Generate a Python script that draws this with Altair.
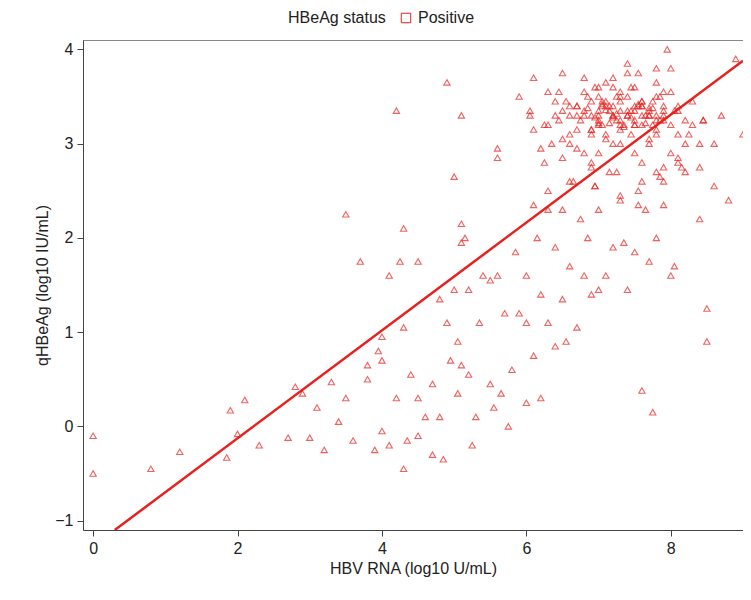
import pandas as pd
import altair as alt

rna = [0, 0, 0.8, 1.2, 1.9, 1.85, 2.0, 2.1, 2.3, 2.7, 2.8, 2.9, 3.0, 3.1, 3.2, 3.3, 3.4, 3.5, 3.5, 3.6,
       3.7, 3.8, 3.8, 3.9, 3.95, 4.0, 4.0, 4.0, 4.1, 4.1, 4.2, 4.2, 4.25, 4.3, 4.3, 4.3, 4.35, 4.4, 4.5, 4.5,
       4.5, 4.6, 4.7, 4.7, 4.8, 4.8, 4.85, 4.9, 4.9, 4.95, 5.0, 5.0, 5.05, 5.05, 5.1, 5.1, 5.1, 5.1, 5.15, 5.2,
       5.2, 5.25, 5.3, 5.35, 5.4, 5.5, 5.5, 5.55, 5.6, 5.6, 5.6, 5.65, 5.7, 5.75, 5.8, 5.85, 5.9, 5.9, 6.0, 6.0,
       6.0, 6.05, 6.05, 6.1, 6.1, 6.1, 6.15, 6.2, 6.2, 6.25, 6.25, 6.3, 6.3, 6.35, 6.4, 6.4, 6.45, 6.5, 6.5, 6.5,
       6.55, 6.6, 6.6, 6.65, 6.7, 6.7, 6.75, 6.8, 6.8, 6.85, 6.9, 6.9, 6.95, 7.0, 7.0, 7.0, 7.05, 7.1, 7.1, 7.15,
       7.2, 7.2, 7.25, 7.3, 7.3, 7.35, 7.4, 7.4, 7.45, 7.5, 7.5, 7.55, 7.6, 7.6, 7.65, 7.7, 7.7, 7.75, 7.8, 7.8,
       7.85, 7.9, 7.9, 7.95, 8.0, 8.0, 8.05, 8.1, 8.1, 8.2, 8.25, 8.3, 8.4, 8.45, 8.5, 8.5, 8.6, 8.7, 8.8, 8.9,
       9.0, 6.3, 6.4, 6.5, 6.6, 6.7, 6.8, 6.9, 7.0, 7.1, 7.2, 7.3, 7.4, 7.5, 7.6, 7.7, 7.8, 7.9, 8.0, 6.9,
       7.0, 7.05, 7.15, 7.25, 7.35, 7.45, 7.55, 7.65, 7.75, 7.85, 6.95, 7.1, 7.2, 7.3, 7.4, 7.5, 7.6, 7.7, 7.8, 7.9,
       6.6, 6.75, 6.85, 7.0, 7.15, 7.3, 7.45, 7.6, 7.75, 7.9, 8.05, 6.7, 6.9, 7.1, 7.3, 7.5, 7.7, 7.9, 8.1, 6.2,
       6.4, 6.6, 6.8, 7.0, 7.2, 7.4, 7.6, 7.8, 8.0, 8.2, 6.5, 6.7, 6.9, 7.1, 7.3, 7.5, 7.7, 7.9, 8.1, 8.3,
       6.3, 6.5, 6.8, 7.0, 7.2, 7.4, 7.6, 7.8, 8.0, 8.2, 8.4, 6.6, 6.9, 7.2, 7.5, 7.8, 8.1, 8.4, 8.6, 6.45,
       6.7, 6.95, 7.25, 7.55, 7.85, 8.15, 8.45, 7.0, 7.3, 7.6, 7.9, 6.1, 6.3, 6.55, 6.8, 7.05, 7.3, 7.55, 7.8,
       6.85, 6.95, 7.05, 7.15, 7.25, 7.35, 7.45, 7.55, 7.65, 7.75, 6.9, 7.0, 7.1, 7.2, 7.3, 7.4, 7.5, 7.6, 7.7, 7.8]
hbeag = [-0.1, -0.5, -0.45, -0.27, 0.17, -0.33, -0.08, 0.28, -0.2, -0.12, 0.42, 0.35, -0.12, 0.2, -0.25, 0.47, 0.05, 0.3, 2.25, -0.15,
         1.75, 0.65, 0.5, -0.25, 0.8, 0.95, 0.7, -0.05, 1.6, -0.2, 0.3, 3.35, 1.75, 2.1, 1.05, -0.45, -0.15, 0.55, 1.75, -0.1,
         0.3, 0.1, 0.45, -0.3, 1.35, 0.1, -0.35, 3.65, 1.1, 0.7, 2.65, 1.45, 0.9, 0.35, 3.3, 2.15, 1.95, 0.65, 2.0, 1.45,
         0.55, -0.2, 0.1, 1.1, 1.6, 1.55, 0.45, 0.2, 2.95, 2.85, 1.6, 0.35, 1.2, 0.0, 0.6, 1.85, 3.5, 1.2, 1.6, 1.1,
         0.25, 3.35, 3.3, 3.7, 2.35, 0.75, 2.0, 1.4, 0.3, 2.8, 3.2, 2.5, 1.1, 3.0, 1.9, 0.85, 3.25, 3.75, 2.3, 1.35,
         0.9, 3.1, 1.7, 2.6, 3.4, 1.05, 2.2, 3.3, 1.6, 2.0, 3.45, 1.4, 2.55, 3.35, 2.9, 1.45, 3.2, 3.1, 1.6, 2.7,
         3.4, 1.9, 3.5, 3.25, 2.4, 1.95, 3.3, 1.45, 3.6, 3.2, 1.85, 2.5, 3.45, 0.38, 2.3, 3.35, 1.75, 0.15, 3.1, 2.0,
         3.5, 3.3, 2.6, 4.0, 3.2, 1.6, 1.7, 3.35, 2.8, 2.7, 3.1, 3.45, 2.2, 3.25, 1.25, 0.9, 3.0, 3.3, 2.4, 3.9,
         3.1, 3.55, 3.45, 3.35, 3.3, 3.4, 3.55, 3.3, 3.25, 3.45, 3.3, 3.2, 3.5, 3.35, 3.4, 3.3, 3.5, 3.35, 3.8, 3.15,
         3.3, 3.45, 3.35, 3.25, 3.2, 3.35, 3.4, 3.3, 3.45, 3.25, 3.6, 3.4, 3.3, 3.15, 3.35, 3.25, 3.4, 3.3, 3.15, 3.4,
         3.0, 3.25, 3.5, 3.2, 3.4, 3.55, 3.1, 3.45, 3.2, 3.55, 3.35, 3.3, 3.1, 3.05, 3.5, 3.4, 3.05, 3.25, 3.4, 2.95,
         3.3, 3.4, 3.7, 3.5, 3.6, 3.75, 3.2, 3.65, 3.55, 3.25, 2.85, 3.15, 2.8, 3.65, 3.0, 3.6, 3.0, 2.75, 3.1, 3.2,
         3.2, 3.05, 2.9, 3.6, 3.7, 3.85, 2.8, 3.3, 2.9, 3.0, 3.0, 2.6, 2.75, 3.0, 2.9, 2.7, 2.85, 2.75, 2.55, 3.55,
         2.95, 2.55, 2.7, 2.35, 2.65, 2.75, 3.25, 2.3, 2.45, 2.6, 2.35, 3.15, 2.3, 3.45, 3.35, 3.4, 3.35, 3.75, 3.8,
         3.38, 3.28, 3.42, 3.22, 3.32, 3.18, 3.28, 3.42, 3.22, 3.38, 3.15, 3.22, 3.36, 3.28, 3.45, 3.3, 3.2, 3.3, 3.38, 3.25]

n = min(len(rna), len(hbeag))
points = pd.DataFrame({"rna": rna[:n], "hbeag": hbeag[:n], "status": ["Positive"] * n})

fit_x = [0.3, 9.0]
fit_y = [-1.1, 3.88]
fit = pd.DataFrame({"rna": fit_x, "hbeag": fit_y})

red = "#e8211e"
xs = alt.Scale(domain=[-0.14, 9.0], nice=False, zero=False)
ys = alt.Scale(domain=[-1.1, 4.1], nice=False, zero=False)

scatter = alt.Chart(points).mark_point(shape="triangle-up", filled=False, size=40, strokeWidth=1.1, clip=True).encode(
    x=alt.X("rna:Q", scale=xs, title="HBV RNA (log10 U/mL)",
            axis=alt.Axis(values=[0, 2, 4, 6, 8], format="d", grid=False)),
    y=alt.Y("hbeag:Q", scale=ys, title="qHBeAg (log10 IU/mL)",
            axis=alt.Axis(values=[-1, 0, 1, 2, 3, 4], format="d", grid=False)),
    color=alt.Color("status:N", title="HBeAg status",
                    scale=alt.Scale(domain=["Positive"], range=[red]),
                    legend=alt.Legend(orient="none", legendX=205, legendY=-30, direction="horizontal",
                                      titleOrient="left", symbolType="square", symbolSize=90,
                                      titleFontSize=16, labelFontSize=16, titleFontWeight="normal",
                                      titleColor="#222", labelColor="#222", titlePadding=12,
                                      symbolStrokeColor="#7a1a1a", symbolStrokeWidth=1,
                                      symbolFillColor="#d9534f", symbolOpacity=1)),
)

line = alt.Chart(fit).mark_line(color=red, strokeWidth=2.5, clip=True).encode(
    x=alt.X("rna:Q", scale=xs), y=alt.Y("hbeag:Q", scale=ys)
)

chart = (scatter + line).properties(
    width=660, height=490,
    autosize=alt.AutoSizeParams(type="none"),
    padding={"left": 75, "top": 32, "right": 0, "bottom": 62},
).configure_view(stroke="#888", strokeWidth=1).configure_axis(
    labelFont="Liberation Sans", titleFont="Liberation Sans", labelFontSize=16, titleFontSize=16,
    titleFontWeight="normal", labelColor="#222", titleColor="#222", domainColor="#444", tickColor="#444",
    tickSize=6, labelPadding=4
).configure_legend(labelFont="Liberation Sans", titleFont="Liberation Sans")

chart.save("out.html", embed_options={"renderer": "svg", "actions": False})
